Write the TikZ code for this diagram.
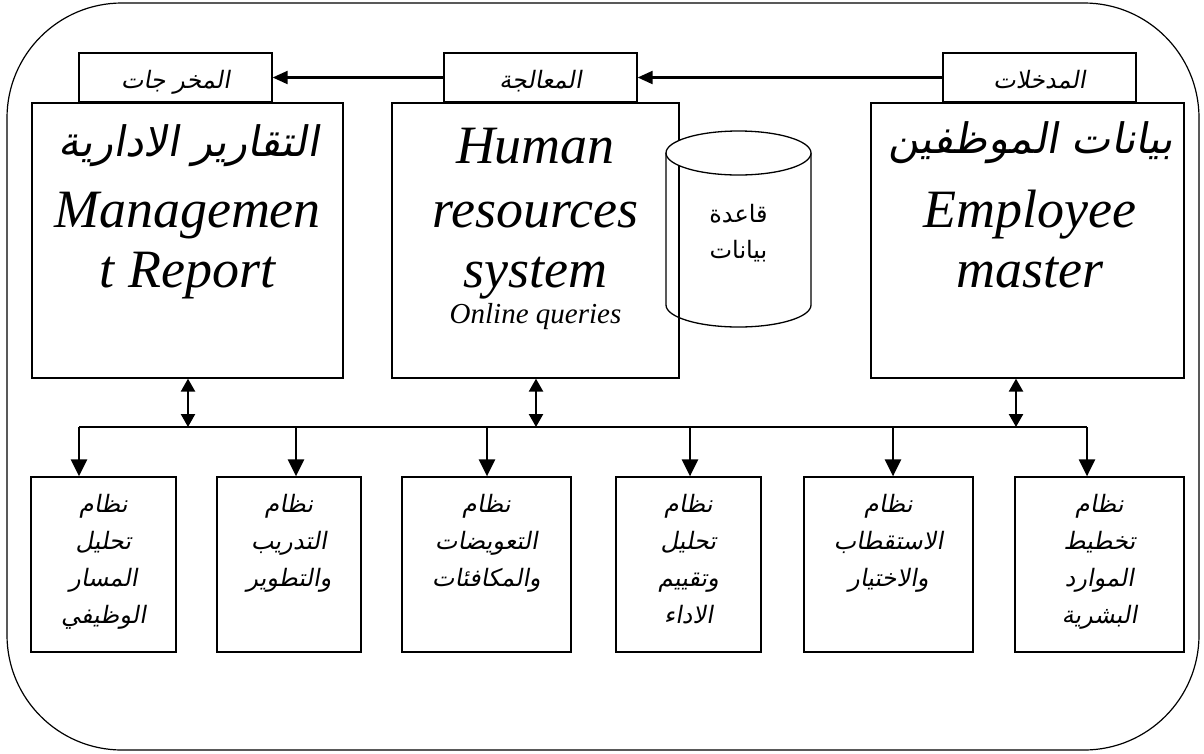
\documentclass[tikz,border=0pt]{standalone}
\usepackage{fontspec}
\setmainfont{Liberation Serif}
\newfontfamily\arabicfont[Script=Arabic]{DejaVu Sans}
\newfontfamily\arabicsl[Script=Arabic,FakeSlant=0.18]{DejaVu Sans}
\TeXXeTstate=1
\usetikzlibrary{arrows.meta}
\tikzset{
  boxs/.style={draw, line width=1.3pt, inner sep=0pt},
  tabbox/.style={boxs, minimum width=193pt, minimum height=49pt},
  bigbox/.style={boxs, minimum height=275pt},
  subbox/.style={boxs, minimum height=175pt},
  harrow/.style={line width=2.2pt, -{Triangle[length=15pt,width=13pt]}},
  varrow/.style={line width=2.4pt, -{Triangle[length=17pt,width=16pt]}},
  dblarrow/.style={line width=2.4pt, {Triangle[length=13pt,width=14pt]}-{Triangle[length=13pt,width=14pt]}},
  bus/.style={line width=2.2pt},
  tabtxt/.style={anchor=base, inner sep=0pt, font=\fontsize{24}{28}\arabicsl},
  artitle/.style={anchor=base, inner sep=0pt, font=\fontsize{42}{48}\arabicsl},
  entxt/.style={anchor=base, inner sep=0pt, font=\fontsize{54}{60}\selectfont\itshape},
  subtxt/.style={anchor=base, inner sep=0pt, align=center, font=\fontsize{24}{37}\arabicsl},
  cyltxt/.style={anchor=base, inner sep=0pt, align=center, font=\fontsize{24}{36}\arabicfont},
}
\begin{document}
\begin{tikzpicture}[x=1pt,y=1pt]
\useasboundingbox (0,0) rectangle (1204,-753);
% outer frame
\draw[line width=1.2pt, rounded corners=115pt] (7,-3) rectangle (1199,-750);

% big boxes
\node[bigbox, minimum width=311pt] (outbox) at (187.5,-240.5) {};
\node[bigbox, minimum width=287pt] (procbox) at (535.5,-240.5) {};
\node[bigbox, minimum width=313pt] (inbox) at (1027.5,-240.5) {};

% tabs
\node[tabbox] (outtab) at (175.5,-77.5) {};
\node[tabbox] (proctab) at (540.5,-77.5) {};
\node[tabbox] (intab) at (1039.5,-77.5) {};
\node[tabtxt] (outlbl) at (175.5,-88) {\beginR المخر جات\endR};
\node[tabtxt] (proclbl) at (540.5,-88) {\beginR المعالجة\endR};
\node[tabtxt] (inlbl) at (1039.5,-88) {\beginR المدخلات\endR};

\draw[harrow] (intab.west) -- (proctab.east);
\draw[harrow] (proctab.west) -- (outtab.east);

% big box texts
\node[artitle] (outar) at (189,-156) {\beginR التقارير الادارية\endR};
\node[entxt] (outen1) at (187.5,-227) {Managemen};
\node[entxt] (outen2) at (187.5,-287) {t Report};

\node[entxt] (procen1) at (535.5,-163) {Human};
\node[entxt] (procen2) at (535.5,-227) {resources};
\node[entxt] (procen3) at (535.5,-287) {system};
\node[anchor=base, inner sep=0pt, font=\fontsize{29}{32}\selectfont\itshape] (procen4) at (535.5,-323) {Online queries};

\node[artitle] (inar) at (1031,-153) {\beginR بيانات الموظفين\endR};
\node[entxt] (inen1) at (1030,-227) {Employee};
\node[entxt] (inen2) at (1030,-287) {master};

% database cylinder
\draw[line width=1.3pt] (666,-153) -- (666,-305) arc[start angle=180, end angle=360, x radius=72.5pt, y radius=22pt] -- (811,-153);
\draw[line width=1.3pt, fill=white] (738.5,-153) ellipse [x radius=72.5pt, y radius=22pt];
\node[cyltxt] (dbtxt) at (738.5,-258) {\beginR قاعدة\endR\\\beginR بيانات\endR};

% bus
\coordinate (d1) at (188,-427);
\coordinate (d2) at (536,-427);
\coordinate (d3) at (1016,-427);
\coordinate (j1) at (79,-427);
\coordinate (j2) at (296,-427);
\coordinate (j3) at (487,-427);
\coordinate (j4) at (690,-427);
\coordinate (j5) at (893,-427);
\coordinate (j6) at (1087,-427);
\draw[bus] (j1) -- (j6);
\draw[dblarrow] (d1 |- outbox.south) -- (d1);
\draw[dblarrow] (d2 |- procbox.south) -- (d2);
\draw[dblarrow] (d3 |- inbox.south) -- (d3);

% sub boxes
\node[subbox, minimum width=145pt] (s1) at (103.5,-564.5) {};
\node[subbox, minimum width=144pt] (s2) at (289,-564.5) {};
\node[subbox, minimum width=169pt] (s3) at (486.5,-564.5) {};
\node[subbox, minimum width=145pt] (s4) at (688.5,-564.5) {};
\node[subbox, minimum width=169pt] (s5) at (888.5,-564.5) {};
\node[subbox, minimum width=169pt] (s6) at (1099.5,-564.5) {};

\draw[varrow] (j1) -- (j1 |- s1.north);
\draw[varrow] (j2) -- (j2 |- s2.north);
\draw[varrow] (j3) -- (j3 |- s3.north);
\draw[varrow] (j4) -- (j4 |- s4.north);
\draw[varrow] (j5) -- (j5 |- s5.north);
\draw[varrow] (j6) -- (j6 |- s6.north);

% multi-line nodes: base anchor is the baseline of the last line
\node[subtxt] (t1) at (103.5,-623) {\beginR نظام\endR\\\beginR تحليل\endR\\\beginR المسار\endR\\\beginR الوظيفي\endR};
\node[subtxt] (t2) at (289,-586) {\beginR نظام\endR\\\beginR التدريب\endR\\\beginR والتطوير\endR};
\node[subtxt] (t3) at (486.5,-586) {\beginR نظام\endR\\\beginR التعويضات\endR\\\beginR والمكافئات\endR};
\node[subtxt] (t4) at (688.5,-623) {\beginR نظام\endR\\\beginR تحليل\endR\\\beginR وتقييم\endR\\\beginR الاداء\endR};
\node[subtxt] (t5) at (888.5,-586) {\beginR نظام\endR\\\beginR الاستقطاب\endR\\\beginR والاختيار\endR};
\node[subtxt] (t6) at (1099.5,-623) {\beginR نظام\endR\\\beginR تخطيط\endR\\\beginR الموارد\endR\\\beginR البشرية\endR};
\end{tikzpicture}
\end{document}
